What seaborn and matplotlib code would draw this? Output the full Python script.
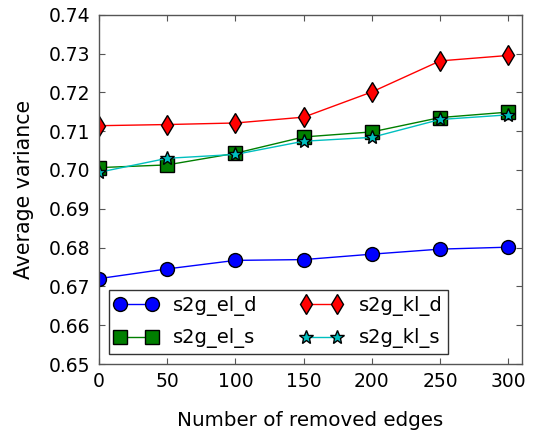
import numpy as np
import pandas as pd
import matplotlib
matplotlib.use("Agg")
import matplotlib.pyplot as plt
import seaborn as sns

removed_edges = [0, 50, 100, 150, 200, 250, 300]
s2g_el_d = [0.6720, 0.6745, 0.6767, 0.6769, 0.6783, 0.6796, 0.6801]
s2g_el_s = [0.7006, 0.7013, 0.7043, 0.7085, 0.7098, 0.7135, 0.7149]
s2g_kl_d = [0.7114, 0.7117, 0.7121, 0.7136, 0.7201, 0.7281, 0.7295]
s2g_kl_s = [0.6994, 0.7030, 0.7040, 0.7074, 0.7084, 0.7130, 0.7142]

series_names = ["s2g_el_d", "s2g_el_s", "s2g_kl_d", "s2g_kl_s"]
series_values = [s2g_el_d, s2g_el_s, s2g_kl_d, s2g_kl_s]
y_ticks = [0.65, 0.66, 0.67, 0.68, 0.69, 0.70, 0.71, 0.72, 0.73, 0.74]

frames = []
for name, vals in zip(series_names, series_values):
    frames.append(pd.DataFrame({"edges": removed_edges, "variance": vals, "method": name}))
df = pd.concat(frames, ignore_index=True)

sns.set_style("ticks")
plt.rcParams["font.family"] = ["DejaVu Sans"]
plt.rcParams["text.color"] = "black"
plt.rcParams["axes.labelcolor"] = "black"
plt.rcParams["xtick.labelcolor"] = "black"
plt.rcParams["ytick.labelcolor"] = "black"

palette = {"s2g_el_d": "#0000ff", "s2g_el_s": "#007f00",
           "s2g_kl_d": "#ff0000", "s2g_kl_s": "#00bfbf"}
markers = {"s2g_el_d": "o", "s2g_el_s": "s", "s2g_kl_d": "d", "s2g_kl_s": "*"}
msize = 10

fig = plt.figure(figsize=(5.33, 4.33), dpi=100)
ax = fig.add_axes([99 / 533, 1 - 364 / 433, (522 - 99) / 533, (364 - 14.7) / 433])

sns.lineplot(data=df, x="edges", y="variance", hue="method", style="method",
             hue_order=series_names, style_order=series_names,
             palette=palette, markers=markers, dashes=False,
             linewidth=1, markersize=msize, markeredgecolor="black",
             markeredgewidth=1, ax=ax, legend=True)

# markers at the left edge are cut by the axes box
for line in ax.lines:
    line.set_clip_on(True)
    line.set_clip_path(ax.patch)

ax.set_xlim(0, 310)
ax.set_ylim(0.65, 0.74)
ax.set_xticks(removed_edges)
ax.set_yticks(y_ticks)
ax.set_yticklabels([f"{v:.2f}" for v in y_ticks])
ax.tick_params(direction="in", top=True, right=True, labelsize=13.5, length=4,
               color="#555555", labelcolor="black", pad=6)
for sp in ax.spines.values():
    sp.set_color("#555555")
    sp.set_linewidth(1)
    sp.set_visible(True)

ax.set_xlabel("Number of removed edges", fontsize=14.3, labelpad=14, color="black")
ax.set_ylabel("Average variance", fontsize=14.8, labelpad=11, color="black")

handles, labels = ax.get_legend_handles_labels()
for h in handles:
    h.set_markersize(msize)
    h.set_markeredgecolor("black")
leg = ax.legend(handles, labels, ncol=2, numpoints=2, loc="lower left",
                fontsize=14, frameon=True, fancybox=False, edgecolor="black",
                handlelength=2.2, handletextpad=0.8, columnspacing=2.2,
                borderaxespad=0.5, borderpad=0.3, labelspacing=0.65)
leg.get_frame().set_linewidth(1)
for t in leg.get_texts():
    t.set_color("black")

fig.savefig("out.png", dpi=100)
